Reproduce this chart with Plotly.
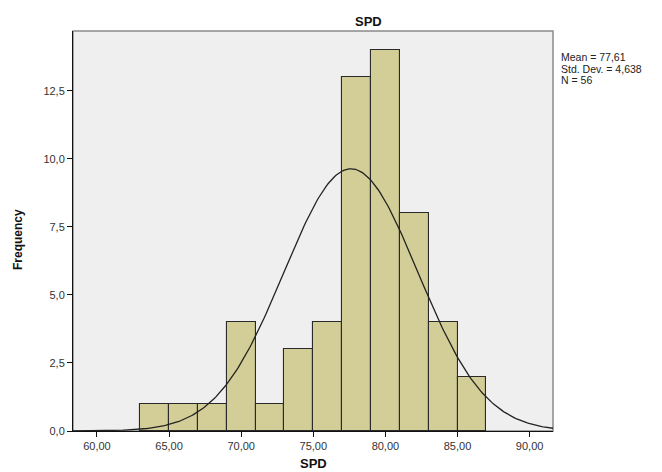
import numpy as np
import plotly.graph_objects as go

# Histogram data (bin width 2)
bin_starts = [63, 65, 67, 69, 71, 73, 75, 77, 79, 81, 83, 85]
counts = [1, 1, 1, 4, 1, 3, 4, 13, 14, 8, 4, 2]
bin_width = 2

mean = 77.61
std_dev = 4.638
n_obs = 56

x_ticks = [60, 65, 70, 75, 80, 85, 90]
y_ticks = [0, 2.5, 5.0, 7.5, 10.0, 12.5]
stats_lines = ["Mean = 77,61", "Std. Dev. = 4,638", "N = 56"]

centers = [s + bin_width / 2 for s in bin_starts]

# Normal curve fitted from stated Mean / Std. Dev. / N
xs = np.linspace(58.34, 91.62, 300)
ys = n_obs * bin_width / (std_dev * np.sqrt(2 * np.pi)) * np.exp(-0.5 * ((xs - mean) / std_dev) ** 2)

fig = go.Figure()
fig.add_trace(go.Bar(
    x=centers, y=counts, width=bin_width,
    marker=dict(color="#d3ce97", line=dict(color="#2a2a2a", width=1.1)),
    hoverinfo="x+y",
))
fig.add_trace(go.Scatter(
    x=xs, y=ys, mode="lines",
    line=dict(color="#222222", width=1.3),
    hoverinfo="skip",
))

annotations = [
    dict(text="<b>SPD</b>", xref="paper", yref="paper", x=(368 - 73) / 480, y=1,
         yshift=0, yanchor="bottom", xanchor="center", showarrow=False,
         font=dict(size=13, color="#111111")),
    dict(text="<b>SPD</b>", xref="paper", yref="paper", x=(313 - 73) / 480, y=0,
         yshift=-42, yanchor="bottom", xanchor="center", showarrow=False,
         font=dict(size=13, color="#111111")),
    dict(text="<b>Frequency</b>", xref="paper", yref="paper", x=0, y=(431 - 240) / 400,
         xshift=-55, xanchor="center", yanchor="middle", textangle=-90, showarrow=False,
         font=dict(size=12, color="#111111")),
]
for i, line in enumerate(stats_lines):
    annotations.append(dict(
        text=line, xref="paper", yref="paper", x=1, xshift=7, y=1,
        yshift=-(19 + 11.5 * i), xanchor="left", yanchor="top", align="left",
        borderpad=0, showarrow=False, font=dict(size=10.5, color="#222222"),
    ))

fig.update_layout(
    width=662, height=472,
    margin=dict(l=73, r=109, t=31, b=41),
    paper_bgcolor="white",
    plot_bgcolor="#efefef",
    showlegend=False,
    separators=",.",
    font=dict(family="Liberation Sans, Arial, sans-serif", size=11, color="#333333"),
    bargap=0,
    xaxis=dict(
        range=[58.34, 91.62],
        tickvals=x_ticks, tickformat=".2f",
        showgrid=False, zeroline=False,
        showline=True, linecolor="#111111", linewidth=1,
        ticks="outside", ticklen=5, tickcolor="#111111",
        tickfont=dict(size=11, color="#333333"),
    ),
    yaxis=dict(
        range=[0, 14.7],
        tickvals=y_ticks, tickformat=".1f",
        showgrid=False, zeroline=False,
        showline=True, linecolor="#111111", linewidth=1,
        ticks="outside", ticklen=5, tickcolor="#111111",
        tickfont=dict(size=11, color="#333333"),
    ),
    shapes=[dict(
        type="rect", xref="paper", yref="paper", x0=0, x1=1, y0=0, y1=1,
        line=dict(color="#8a8a8a", width=1.5), layer="below",
    )],
    annotations=annotations,
)

fig.write_html("out.html", config={"displayModeBar": False},
               post_script="document.body.style.margin='0';")
